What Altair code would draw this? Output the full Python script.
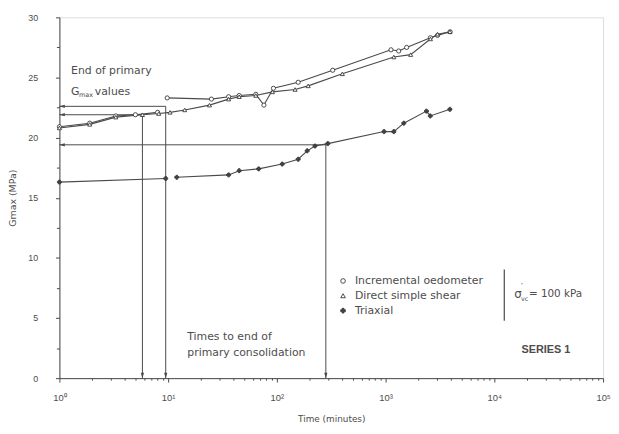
import altair as alt
import pandas as pd

# ---------------- data ----------------
series_names = ["Incremental oedometer", "Direct simple shear", "Triaxial"]

# Incremental oedometer (upper curve)
oed_t = [1, 1.9, 3.3, 5.0, 8.0, 9.8, 25, 36, 45, 64, 76, 93, 157, 326, 1120, 1320, 1560, 2580, 3000, 3920]
oed_g = [20.9, 21.2, 21.8, 21.9, 22.1, 23.3, 23.2, 23.4, 23.5, 23.6, 22.7, 24.1, 24.6, 25.6, 27.3, 27.2, 27.5, 28.3, 28.5, 28.8]
oed_seg = [0, 0, 0, 0, 0, 1, 1, 1, 1, 1, 1, 1, 1, 1, 1, 1, 1, 1, 1, 1]

# Direct simple shear (middle curve)
dss_t = [1, 1.9, 3.3, 5.8, 8.2, 10.4, 14.2, 24, 36, 45, 64, 91, 147, 194, 400, 1190, 1700, 2580, 3000, 3900]
dss_g = [20.8, 21.1, 21.7, 21.9, 22.0, 22.1, 22.3, 22.7, 23.2, 23.4, 23.5, 23.8, 24.0, 24.3, 25.3, 26.7, 26.9, 28.2, 28.6, 28.8]
dss_seg = [0] * 20

# Triaxial (lower curve)
tri_t = [1, 9.5, 12, 36, 45, 68, 112, 157, 190, 224, 294, 967, 1190, 1470, 2375, 2575, 3900]
tri_g = [16.3, 16.6, 16.7, 16.9, 17.25, 17.4, 17.8, 18.2, 18.9, 19.3, 19.5, 20.5, 20.5, 21.2, 22.2, 21.8, 22.35]
tri_seg = [0, 0, 1, 1, 1, 1, 1, 1, 1, 1, 1, 1, 1, 1, 1, 1, 1]

# end of primary consolidation (time, Gmax)
eop_t = [5.8, 9.5, 282]
eop_g = [21.9, 22.6, 19.4]

x_ticks = [m * 10 ** k for k in range(5) for m in range(1, 10)] + [100000]
y_ticks = [i * 2.5 for i in range(13)]

# ---------------- styles ----------------
FONT = "DejaVu Sans"
LINE = "#4a4a4a"
TXT = "#4d4d4d"
shapes = ["circle", "triangle-up", "cross"]
fills = ["white", "white", "#444444"]
sizes = [18, 16, 12]

xscale = alt.Scale(type="log", domain=[1, 100000], nice=False)
yscale = alt.Scale(domain=[0, 30], nice=False, zero=False)

xaxis = alt.Axis(
    values=x_ticks,
    labelExpr="datum.value==1?'10⁰':datum.value==10?'10¹':datum.value==100?'10²':"
              "datum.value==1000?'10³':datum.value==10000?'10⁴':datum.value==100000?'10⁵':''",
    labelOverlap=False, labelFlush=False, grid=False,
    tickSize={"condition": {"test": "abs(log(datum.value)/LN10 - round(log(datum.value)/LN10)) < 0.000001", "value": 4}, "value": 2},
    tickColor=LINE, domainColor=LINE, labelColor=TXT, labelFont="Liberation Sans", labelFontSize=9.5,
    labelPadding=11, title="Time (minutes)", titleFont=FONT, titleFontSize=9, titleFontWeight="normal",
    titleColor=TXT, titleY=41, titleBaseline="middle",
)
yaxis = alt.Axis(
    values=y_ticks,
    labelExpr="datum.value % 5 == 0 ? datum.label : ''",
    labelOverlap=False, labelFlush=False, grid=False,
    tickSize={"condition": {"test": "datum.value % 5 == 0", "value": 4}, "value": 3},
    tickColor=LINE, domainColor=LINE, labelColor=TXT, labelFont="Liberation Sans", labelFontSize=9,
    labelPadding=18, title="Gmax (MPa)", titleFont=FONT, titleFontSize=9.5, titleFontWeight="normal",
    titleColor=TXT, titleX=-47, titleBaseline="middle",
)


def X(f):
    return alt.X(f, type="quantitative", scale=xscale, axis=xaxis)


def Y(f):
    return alt.Y(f, type="quantitative", scale=yscale, axis=yaxis)


shape_enc = alt.Shape("series:N", scale=alt.Scale(domain=series_names, range=shapes), legend=None)
fill_enc = alt.Fill("series:N", scale=alt.Scale(domain=series_names, range=fills), legend=None)
size_enc = alt.Size("series:N", scale=alt.Scale(domain=series_names, range=sizes), legend=None)

frames = []
for name, ts, gs, segs in [(series_names[0], oed_t, oed_g, oed_seg),
                           (series_names[1], dss_t, dss_g, dss_seg),
                           (series_names[2], tri_t, tri_g, tri_seg)]:
    frames.append(pd.DataFrame({"t": ts, "g": gs, "seg": [f"{name}-{s}" for s in segs], "series": name}))
data = pd.concat(frames, ignore_index=True)

lines = alt.Chart(data).mark_line(color=LINE, strokeWidth=1.1).encode(
    x=X("t"), y=Y("g"), detail="seg:N")
points = alt.Chart(data).mark_point(filled=True, stroke="#3a3a3a", strokeWidth=0.9, opacity=1).encode(
    x=X("t"), y=Y("g"), shape=shape_enc, fill=fill_enc, size=size_enc)

eop = pd.DataFrame({"t": eop_t, "g": eop_g})
eop["t0"] = 1
eop["g0"] = 0
h_rules = alt.Chart(eop).mark_rule(color=LINE, strokeWidth=1).encode(x=X("t0"), x2="t:Q", y=Y("g"))
v_rules = alt.Chart(eop).mark_rule(color=LINE, strokeWidth=1).encode(x=X("t"), y=Y("g0"), y2="g:Q")
down_arrows = alt.Chart(eop).mark_point(shape="M0,0L-0.6,-2L0.6,-2Z", filled=True, color=LINE, size=30, opacity=1).encode(
    x=X("t"), y=Y("g0"))
left_arrows = alt.Chart(eop).mark_point(shape="M0,0L2,-0.6L2,0.6Z", filled=True, color=LINE, size=30, opacity=1).encode(
    x=X("t0"), y=Y("g"))


def txt(t, g, s, size=11, dx=0, dy=0, weight="normal", font=FONT, align="left"):
    df = pd.DataFrame({"t": [t], "g": [g], "s": [s]})
    return alt.Chart(df).mark_text(align=align, baseline="middle", dx=dx, dy=dy, font=font,
                                   fontSize=size, fontWeight=weight, color=TXT).encode(
        x=X("t"), y=Y("g"), text="s:N")


annotations = [
    txt(1.28, 25.5, "End of primary"),
    txt(1.28, 23.8, "G"),
    txt(1.28, 23.8, "max", size=6.5, dx=8, dy=3),
    txt(1.28, 23.8, "values", dx=24),
    txt(15, 3.45, "Times to end of"),
    txt(15, 2.05, "primary consolidation"),
    txt(29800, 2.3, "SERIES 1", size=11, weight="bold", font="Liberation Sans", align="center"),
    txt(15200, 6.99, "σ", size=12),
    txt(15200, 6.99, "′", size=9, dx=7, dy=-7),
    txt(15200, 6.99, "vc", size=6.5, dx=7, dy=5),
    txt(15200, 6.99, "= 100 kPa", size=10.5, dx=15),
]

# manual legend
leg = pd.DataFrame({"t": [406] * 3, "tl": [522] * 3, "g": [8.08, 6.85, 5.61], "series": series_names})
leg_pts = alt.Chart(leg).mark_point(filled=True, stroke="#3a3a3a", strokeWidth=0.9, size=22, opacity=1).encode(
    x=X("t"), y=Y("g"), shape=shape_enc, fill=fill_enc)
leg_txt = alt.Chart(leg).mark_text(align="left", baseline="middle", font=FONT, fontSize=11, color=TXT).encode(
    x=X("tl"), y=Y("g"), text="series:N")
bar = pd.DataFrame({"t": [12340], "g1": [4.77], "g2": [9.04]})
leg_bar = alt.Chart(bar).mark_rule(color=LINE, strokeWidth=1.2).encode(x=X("t"), y=Y("g1"), y2="g2:Q")

chart = alt.layer(
    h_rules, v_rules, down_arrows, left_arrows, lines, points,
    leg_pts, leg_txt, leg_bar, *annotations
).properties(
    width=550, height=365,
    autosize=alt.AutoSizeParams(type="none"),
    padding={"left": 52, "top": 7, "right": 8, "bottom": 48},
).configure_view(stroke=LINE, strokeWidth=1).configure(background="white")

chart.save("out.html", embed_options={"renderer": "svg", "actions": False})
